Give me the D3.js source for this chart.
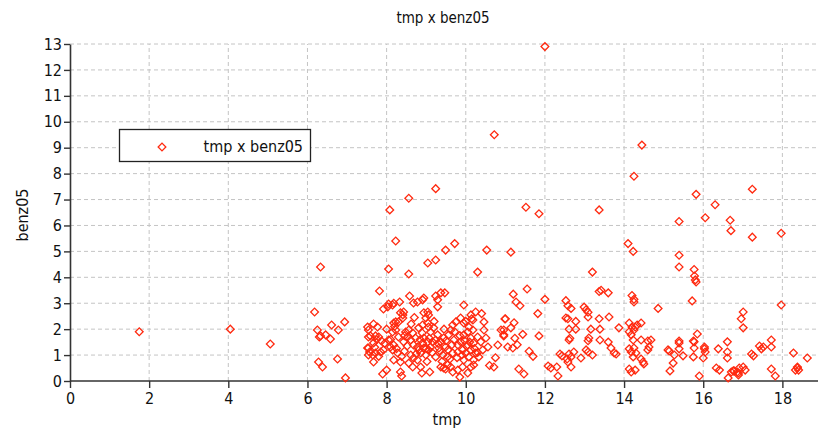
<!DOCTYPE html>
<html><head><meta charset="utf-8">
<script src="https://cdn.jsdelivr.net/npm/d3@7"></script>
<style>
html,body{margin:0;padding:0;background:#fff;}
svg{display:block;}
text{font-family:"DejaVu Sans Condensed","DejaVu Sans",sans-serif;font-stretch:condensed;fill:#111;}
</style></head>
<body>
<svg id="chart" width="819" height="432"></svg>
<script>
const chartTitle = "tmp x benz05";
const xLabel = "tmp";
const yLabel = "benz05";
const seriesName = "tmp x benz05";
const xTicks = [0,2,4,6,8,10,12,14,16,18];
const yTicks = [0,1,2,3,4,5,6,7,8,9,10,11,12,13];

const tmp = [
1.75,4.05,5.06,6.18,6.33,6.25,6.33,6.30,6.46,6.61,6.78,6.94,6.58,6.28,6.38,6.76,6.96,7.54,7.54,7.54,7.52,
8.05,8.56,7.82,9.04,9.24,10.30,8.58,8.91,8.94,9.24,9.37,9.47,9.29,7.92,8.05,8.18,8.33,8.43,8.41,
8.68,8.78,9.04,9.06,9.29,9.95,10.13,10.25,9.87,9.95,10.18,10.46,10.99,10.89,10.96,10.81,11.06,10.71,
9.85,10.05,8.89,9.09,8.38,7.90,8.00,9.37,9.49,9.62,9.54,
12.00,10.72,14.45,14.25,9.24,8.56,8.08,8.23,9.49,9.72,10.53,11.14,15.82,17.24,11.52,11.85,13.37,16.30,
15.39,16.05,16.68,16.70,17.24,17.97,14.10,14.23,15.39,15.39,15.77,13.20,
11.55,11.20,11.27,11.37,12.00,12.53,12.58,12.66,13.37,13.42,13.60,12.99,13.04,13.09,13.09,14.20,14.25,14.25,14.86,
11.00,11.82,11.22,11.14,10.96,10.96,11.44,11.24,11.85,11.19,12.53,12.58,12.78,12.61,12.78,13.16,13.39,13.62,13.87,13.37,
12.63,12.61,13.11,13.09,13.39,13.60,13.67,13.75,13.80,13.04,13.09,13.20,12.38,12.43,12.61,12.66,12.73,12.91,12.56,12.58,
12.66,12.08,12.15,12.30,12.33,11.34,11.47,
14.13,14.20,14.25,14.28,14.33,14.43,14.13,14.18,14.23,14.43,14.60,14.63,14.60,14.13,14.18,14.25,14.30,14.23,14.43,14.48,14.50,
14.13,14.18,14.28,
15.78,15.80,15.82,15.72,17.01,16.96,17.01,17.97,14.68,15.39,15.39,15.75,15.77,15.85,15.77,15.11,15.14,15.27,15.39,15.49,15.75,
16.03,16.03,16.05,16.00,16.38,16.61,16.61,16.61,15.24,15.16,15.90,16.33,16.41,16.63,16.76,16.71,16.78,16.89,16.89,16.86,
17.01,17.06,16.91,17.22,17.27,17.42,17.47,17.52,17.72,17.72,17.72,17.82,18.28,18.63,18.38,18.38,18.33,18.41,
7.67,7.77,7.54,7.59,7.72,7.80,7.87,7.67,7.52,7.57,7.65,7.72,7.85,7.92,7.67,8.03,8.15,8.18,8.23,8.35,8.41,8.30,
8.15,8.23,8.05,8.10,8.18,8.15,8.28,8.18,8.35,8.48,8.56,8.66,8.53,8.61,8.73,8.43,8.68,8.78,8.81,8.91,8.94,8.86,
8.99,9.06,9.11,9.04,8.94,9.16,8.61,8.68,8.78,8.56,8.66,8.35,8.94,8.99,9.04,9.06,9.11,8.91,8.81,9.19,9.29,9.37,
9.24,9.44,9.49,9.32,9.42,9.24,9.54,9.57,9.62,9.67,9.75,9.70,9.80,9.87,9.92,9.80,9.67,9.95,10.05,10.08,10.18,
10.13,10.20,10.05,10.00,10.13,10.25,10.08,10.20,9.95,10.30,10.38,10.46,10.51,10.56,10.43,10.33,8.86,9.44,9.67,
9.80,9.92,10.13,10.20,11.30,11.60,11.70,10.60,10.75,
8.45,8.52,8.62,8.70,8.75,8.85,8.90,9.00,9.02,9.08,9.15,9.20,9.30,9.35,9.40,9.45,9.50,9.55,9.60,9.65,9.72,
9.78,9.85,9.90,9.97,10.00,10.02,10.10,10.15,10.22,10.30,10.40,7.70,7.75,7.80,7.95,8.00,8.10,8.25,8.30,8.38,8.45,8.20
];
const benz05 = [
1.90,2.00,1.43,2.66,4.40,1.97,1.74,1.70,1.78,2.16,1.97,2.28,1.62,0.73,0.54,0.85,0.12,1.70,1.27,1.00,2.08,
4.32,4.13,3.47,4.55,4.67,4.20,3.28,3.13,3.20,3.28,3.40,3.40,3.13,2.78,2.97,3.00,3.05,2.66,2.55,
3.01,3.05,2.66,2.55,2.86,2.93,2.55,2.66,2.43,2.24,2.35,2.28,2.39,1.97,1.78,1.39,1.31,0.54,
0.15,0.31,0.31,0.35,0.19,0.27,0.42,0.54,0.46,0.54,0.62,
12.90,9.50,9.10,7.90,7.42,7.05,6.60,5.40,5.05,5.30,5.05,4.97,7.20,7.40,6.70,6.45,6.60,6.80,
6.15,6.30,6.20,5.80,5.55,5.70,5.30,5.00,4.85,4.40,4.30,4.20,
3.55,3.35,3.05,2.90,3.15,3.10,2.90,2.80,3.45,3.50,3.40,2.85,2.75,2.65,2.47,3.30,3.05,3.15,2.80,
2.40,2.60,2.25,2.05,1.97,1.74,1.80,1.65,1.74,1.27,2.43,2.40,2.30,2.00,2.00,2.00,2.00,2.47,2.05,2.40,
1.65,1.58,1.66,1.55,1.58,1.50,1.27,1.08,1.04,1.20,1.12,1.00,1.04,0.97,1.04,0.93,1.12,0.89,0.85,0.73,
0.54,0.58,0.50,0.54,0.19,0.46,0.27,
2.24,2.08,1.97,2.08,2.16,2.24,1.90,1.78,1.58,1.58,1.54,1.31,1.20,1.24,1.12,1.27,1.08,0.93,0.85,0.73,0.66,
0.46,0.35,0.42,
4.05,3.90,3.82,3.09,2.66,2.40,2.05,2.93,1.58,1.54,1.47,1.54,1.51,1.81,1.27,1.20,1.16,1.00,1.24,0.97,0.93,
1.31,1.24,1.12,0.89,1.24,1.51,1.12,0.89,0.69,0.39,0.19,0.50,0.42,0.12,0.39,0.35,0.39,0.23,0.31,0.35,
0.54,0.42,0.50,1.04,0.97,1.35,1.24,1.31,1.58,1.31,0.46,0.19,1.08,0.89,0.54,0.50,0.42,0.42,
2.20,2.08,1.97,1.74,1.74,1.70,1.54,1.47,1.27,1.12,1.00,1.08,1.12,1.20,0.73,2.86,2.93,2.24,2.28,2.63,2.43,2.28,
1.89,1.97,1.58,1.31,1.39,1.20,1.08,0.81,0.73,1.89,1.97,1.85,1.70,1.58,1.66,1.51,1.39,1.31,1.20,1.47,1.27,1.08,
1.00,1.20,1.31,1.51,1.66,1.51,1.00,0.89,0.81,0.69,0.54,0.35,2.63,2.43,2.24,2.08,1.89,2.16,2.05,2.05,1.78,1.51,
1.58,1.66,1.31,1.27,1.00,0.93,0.93,1.78,1.97,2.16,2.28,1.58,1.39,1.51,1.20,1.12,1.08,1.78,1.89,2.08,1.97,
1.66,1.47,1.39,1.08,1.20,1.08,0.93,0.81,0.81,1.70,1.51,1.97,1.66,1.31,1.20,0.93,0.54,0.50,0.35,
0.42,0.54,0.54,0.62,1.40,1.15,0.95,0.60,0.90,
1.75,1.35,2.20,2.45,1.05,1.60,1.85,1.25,0.75,1.65,1.10,2.30,1.45,1.15,0.75,2.00,1.55,1.20,0.85,1.40,1.90,
0.90,1.75,1.00,1.55,2.30,1.35,1.50,2.40,1.25,1.10,2.60,1.30,1.60,0.95,1.45,2.00,1.60,1.25,1.70,0.95,1.15,2.10
];

const svg = d3.select("#chart");
const x = d3.scaleLinear().domain([0, 18.9]).range([70, 818]);
const y = d3.scaleLinear().domain([0, 13]).range([381, 44]);
const red = "#ff2a10";

// grid
const grid = svg.append("g");
grid.selectAll("line.h").data(yTicks.filter(d => d > 0)).join("line")
  .attr("x1", x(0)).attr("x2", 818).attr("y1", d => y(d)).attr("y2", d => y(d))
  .attr("stroke", "#c4c4c4").attr("stroke-width", 1).attr("stroke-dasharray", "4,3");
grid.selectAll("line.v").data(xTicks.filter(d => d > 0)).join("line")
  .attr("y1", y(0)).attr("y2", y(13)).attr("x1", d => x(d)).attr("x2", d => x(d))
  .attr("stroke", "#c4c4c4").attr("stroke-width", 1).attr("stroke-dasharray", "4,3");

// axes
const xAxis = svg.append("g").attr("transform", `translate(0,${y(0)})`)
  .call(d3.axisBottom(x).tickValues(xTicks).tickFormat(d3.format("d")).tickSize(7).tickSizeOuter(0));
const yAxis = svg.append("g").attr("transform", `translate(${x(0)},0)`)
  .call(d3.axisLeft(y).tickValues(yTicks).tickFormat(d3.format("d")).tickSize(6).tickSizeOuter(0));
[xAxis, yAxis].forEach(a => {
  a.select(".domain").attr("stroke", "#333").attr("stroke-width", 1.6);
  a.selectAll(".tick line").attr("stroke", "#333").attr("stroke-width", 1.4);
  a.selectAll(".tick text").attr("font-size", 16).attr("fill", "#111")
    .style("font-family", '"DejaVu Sans Condensed","DejaVu Sans",sans-serif');
});
xAxis.select(".domain").attr("d", `M${x(0)},0H818`);
xAxis.selectAll(".tick text").attr("dy", "0.95em").attr("y", 8);
yAxis.selectAll(".tick text").attr("x", -8);

// points
const pts = tmp.map((t, i) => ({t, b: benz05[i]}));
const sym = d3.symbol().type(d3.symbolSquare).size(30);
svg.append("g").selectAll("path").data(pts).join("path")
  .attr("d", sym)
  .attr("transform", d => `translate(${x(d.t)},${y(d.b)}) rotate(45)`)
  .attr("fill", "none").attr("stroke", red).attr("stroke-width", 1.3);

// title & labels
svg.append("text").attr("x", 443).attr("y", 23).attr("text-anchor", "middle")
  .attr("font-size", 15).text(chartTitle);
svg.append("text").attr("x", 447).attr("y", 425).attr("text-anchor", "middle")
  .attr("font-size", 16).text(xLabel);
svg.append("text").attr("transform", "translate(28,215) rotate(-90)").attr("text-anchor", "middle")
  .attr("font-size", 16).text(yLabel);

// legend
const lg = svg.append("g");
lg.append("rect").attr("x", 119.5).attr("y", 129.5).attr("width", 191).attr("height", 32)
  .attr("fill", "#fff").attr("stroke", "#222").attr("stroke-width", 1.3);
lg.append("path").attr("d", sym).attr("transform", "translate(162,147) rotate(45)")
  .attr("fill", "none").attr("stroke", red).attr("stroke-width", 1.3);
lg.append("text").attr("x", 303).attr("y", 152).attr("text-anchor", "end")
  .attr("font-size", 16).text(seriesName);
</script>
</body></html>
